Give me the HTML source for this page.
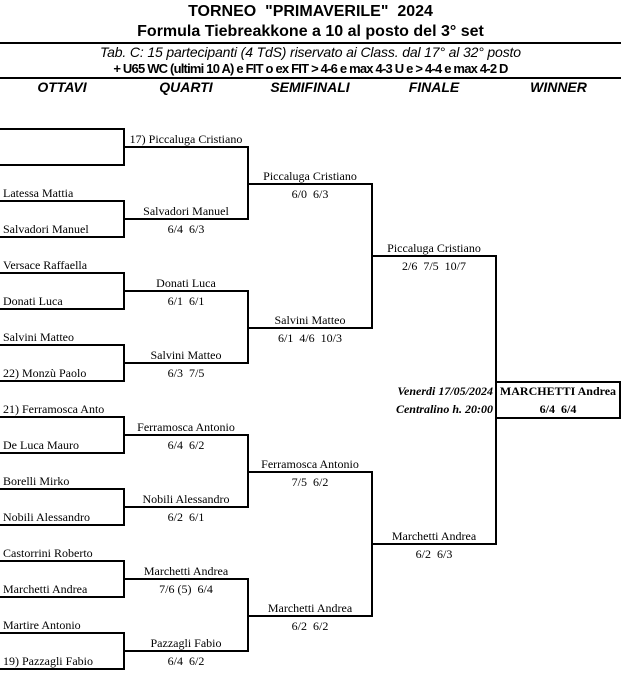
<!DOCTYPE html>
<html><head><meta charset="utf-8"><style>
body{margin:0;width:621px;height:689px;background:#fff;position:relative;overflow:hidden;font-family:"Liberation Serif",serif;font-size:12px;color:#000}
.h{position:absolute;left:0;width:621px;text-align:center;font-family:"Liberation Sans",sans-serif;font-weight:bold}
.t{position:absolute;white-space:nowrap;line-height:14px}
.c{text-align:center}
.l{position:absolute;background:#000}
</style></head><body>
<div class="h" style="top:3px;font-size:16px">TORNEO &nbsp;"PRIMAVERILE" &nbsp;2024</div>
<div class="h" style="top:23px;font-size:16px">Formula Tiebreakkone a 10 al posto del 3° set</div>
<div class="l" style="left:0;top:42px;width:621px;height:2px"></div>
<div class="h" style="top:44px;font-size:14px;font-weight:normal;font-style:italic;letter-spacing:-0.15px">Tab. C: 15 partecipanti (4 TdS) riservato ai Class. dal 17° al 32° posto</div>
<div class="h" style="top:61px;font-size:13px;letter-spacing:-0.8px">+ U65 WC (ultimi 10 A) e FIT o ex FIT &gt; 4-6 e max 4-3 U e &gt; 4-4 e max 4-2 D</div>
<div class="l" style="left:0;top:77px;width:621px;height:2px"></div>
<div class="h" style="top:79px;font-size:14px;font-style:italic;left:0;width:124px">OTTAVI</div>
<div class="h" style="top:79px;font-size:14px;font-style:italic;left:124px;width:124px">QUARTI</div>
<div class="h" style="top:79px;font-size:14px;font-style:italic;left:248px;width:124px">SEMIFINALI</div>
<div class="h" style="top:79px;font-size:14px;font-style:italic;left:372px;width:124px">FINALE</div>
<div class="h" style="top:79px;font-size:14px;font-style:italic;left:496px;width:125px">WINNER</div>
<svg width="621" height="689" style="position:absolute;left:0;top:0" fill="none" stroke="#000" stroke-width="2">
<path d="M0 129H124V165H0M0 201H124V237H0M0 273H124V309H0M0 345H124V381H0M0 417H124V453H0M0 489H124V525H0M0 561H124V597H0M0 633H124V669H0"/>
<path d="M124 147H248V219H124M124 291H248V363H124M124 435H248V507H124M124 579H248V651H124"/>
<path d="M248 184H372V328H248M248 472H372V616H248"/>
<path d="M372 256H496V544H372"/>
<path d="M496 382H620V418H496"/>
</svg>
<div class="t" style="left:3px;top:186px">Latessa Mattia</div>
<div class="t" style="left:3px;top:222px">Salvadori Manuel</div>
<div class="t" style="left:3px;top:258px">Versace Raffaella</div>
<div class="t" style="left:3px;top:294px">Donati Luca</div>
<div class="t" style="left:3px;top:330px">Salvini Matteo</div>
<div class="t" style="left:3px;top:366px">22) Monzù Paolo</div>
<div class="t" style="left:3px;top:402px">21) Ferramosca Anto</div>
<div class="t" style="left:3px;top:438px">De Luca Mauro</div>
<div class="t" style="left:3px;top:474px">Borelli Mirko</div>
<div class="t" style="left:3px;top:510px">Nobili Alessandro</div>
<div class="t" style="left:3px;top:546px">Castorrini Roberto</div>
<div class="t" style="left:3px;top:582px">Marchetti Andrea</div>
<div class="t" style="left:3px;top:618px">Martire Antonio</div>
<div class="t" style="left:3px;top:654px">19) Pazzagli Fabio</div>

<div class="t c" style="left:124px;width:124px;top:132px">17) Piccaluga Cristiano</div>
<div class="t c" style="left:124px;width:124px;top:204px">Salvadori Manuel</div>
<div class="t c" style="left:124px;width:124px;top:222px">6/4 &nbsp;6/3</div>
<div class="t c" style="left:124px;width:124px;top:276px">Donati Luca</div>
<div class="t c" style="left:124px;width:124px;top:294px">6/1 &nbsp;6/1</div>
<div class="t c" style="left:124px;width:124px;top:348px">Salvini Matteo</div>
<div class="t c" style="left:124px;width:124px;top:366px">6/3 &nbsp;7/5</div>
<div class="t c" style="left:124px;width:124px;top:420px">Ferramosca Antonio</div>
<div class="t c" style="left:124px;width:124px;top:438px">6/4 &nbsp;6/2</div>
<div class="t c" style="left:124px;width:124px;top:492px">Nobili Alessandro</div>
<div class="t c" style="left:124px;width:124px;top:510px">6/2 &nbsp;6/1</div>
<div class="t c" style="left:124px;width:124px;top:564px">Marchetti Andrea</div>
<div class="t c" style="left:124px;width:124px;top:582px">7/6 (5) &nbsp;6/4</div>
<div class="t c" style="left:124px;width:124px;top:636px">Pazzagli Fabio</div>
<div class="t c" style="left:124px;width:124px;top:654px">6/4 &nbsp;6/2</div>

<div class="t c" style="left:248px;width:124px;top:169px">Piccaluga Cristiano</div>
<div class="t c" style="left:248px;width:124px;top:187px">6/0 &nbsp;6/3</div>
<div class="t c" style="left:248px;width:124px;top:313px">Salvini Matteo</div>
<div class="t c" style="left:248px;width:124px;top:331px">6/1 &nbsp;4/6 &nbsp;10/3</div>
<div class="t c" style="left:248px;width:124px;top:457px">Ferramosca Antonio</div>
<div class="t c" style="left:248px;width:124px;top:475px">7/5 &nbsp;6/2</div>
<div class="t c" style="left:248px;width:124px;top:601px">Marchetti Andrea</div>
<div class="t c" style="left:248px;width:124px;top:619px">6/2 &nbsp;6/2</div>

<div class="t c" style="left:372px;width:124px;top:241px">Piccaluga Cristiano</div>
<div class="t c" style="left:372px;width:124px;top:259px">2/6 &nbsp;7/5 &nbsp;10/7</div>
<div class="t c" style="left:372px;width:124px;top:529px">Marchetti Andrea</div>
<div class="t c" style="left:372px;width:124px;top:547px">6/2 &nbsp;6/3</div>
<div class="t" style="left:372px;width:121px;top:384px;text-align:right;font-weight:bold;font-style:italic">Venerdi 17/05/2024</div>
<div class="t" style="left:372px;width:121px;top:402px;text-align:right;font-weight:bold;font-style:italic">Centralino h. 20:00</div>
<div class="t c" style="left:496px;width:124px;top:384px;font-weight:bold">MARCHETTI Andrea</div>
<div class="t c" style="left:496px;width:124px;top:402px;font-weight:bold">6/4 &nbsp;6/4</div>
</body></html>
